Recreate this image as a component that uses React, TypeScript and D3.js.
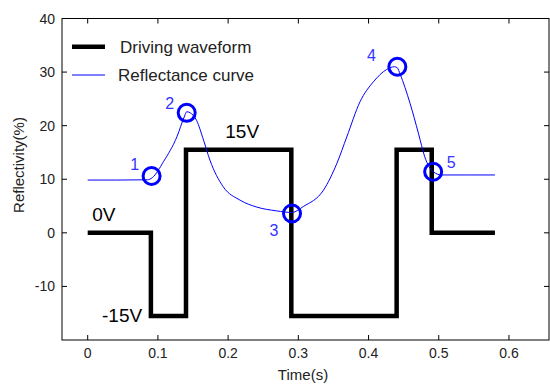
import React from "react";
import * as d3 from "d3";

// Driving waveform (time s, level)
const waveT = [0, 0.09, 0.09, 0.14, 0.14, 0.29, 0.29, 0.44, 0.44, 0.49, 0.49, 0.58];
const waveV = [0, 0, -15.5, -15.5, 15.5, 15.5, -15.5, -15.5, 15.5, 15.5, 0, 0];

// Reflectance curve
const reflT = [0, 0.04, 0.085, 0.092, 0.108, 0.127, 0.138, 0.141, 0.146, 0.155, 0.165, 0.174, 0.193, 0.217, 0.241, 0.269, 0.291, 0.307, 0.336, 0.355, 0.369, 0.388, 0.407, 0.426, 0.437, 0.441, 0.445, 0.459, 0.471, 0.48, 0.492, 0.504, 0.54, 0.58];
const reflR = [9.85, 9.85, 9.9, 10.3, 13.3, 17.9, 21.8, 22.6, 22.4, 21.0, 17.3, 13.6, 8.6, 6.1, 4.8, 4.1, 3.8, 4.9, 8.0, 13.0, 17.9, 24.5, 28.2, 30.5, 31.0, 30.8, 29.6, 24.2, 18.6, 14.2, 11.4, 10.8, 10.8, 10.8];

// Marked points
const markT = [0.091, 0.141, 0.291, 0.441, 0.492];
const markR = [10.6, 22.4, 3.6, 31.0, 11.4];
const markLabels = ["1", "2", "3", "4", "5"];
const markDx = [-17, -17, -18, -26, 18];
const markDy = [-12, -10, 16, -12, -10];

// Voltage annotations
const voltText = ["0V", "-15V", "15V"];
const voltT = [0.023, 0.049, 0.22];
const voltR = [3.5, -15.3, 19];

const xTicks = [0, 0.1, 0.2, 0.3, 0.4, 0.5, 0.6];
const yTicks = [-10, 0, 10, 20, 30, 40];

const legendLabels = ["Driving waveform", "Reflectance curve"];

export default function App() {
  const W = 550, H = 385;
  const left = 62, right = 549, top = 18.5, bottom = 340;
  const x = d3.scaleLinear().domain([-0.0366, 0.657]).range([left, right]);
  const y = d3.scaleLinear().domain([-20, 40]).range([bottom, top]);
  const font = "'Liberation Sans', Arial, sans-serif";

  const waveLine = d3.line<number>().x((_, i) => x(waveT[i])).y((_, i) => y(waveV[i]));
  const reflLine = d3
    .line<number>()
    .x((_, i) => x(reflT[i]))
    .y((_, i) => y(reflR[i]))
    .curve(d3.curveMonotoneX);

  const tl = 5;
  return (
    <svg width={W} height={H} style={{ position: "absolute", left: 0, top: 0, background: "#fff" }}>
      <rect x={0} y={0} width={W} height={H} fill="#fff" />
      {/* box */}
      <rect x={left} y={top} width={right - left} height={bottom - top} fill="none" stroke="#000" strokeWidth={1} />
      {xTicks.map((t) => (
        <g key={"x" + t}>
          <line x1={x(t)} x2={x(t)} y1={bottom} y2={bottom - tl} stroke="#000" />
          <line x1={x(t)} x2={x(t)} y1={top} y2={top + tl} stroke="#000" />
          <text x={x(t)} y={bottom + 18} textAnchor="middle" fontFamily={font} fontSize={14} fill="#222">
            {t === 0 ? "0" : d3.format(".1f")(t)}
          </text>
        </g>
      ))}
      {yTicks.map((v) => (
        <g key={"y" + v}>
          <line x1={left} x2={left + tl} y1={y(v)} y2={y(v)} stroke="#000" />
          <line x1={right} x2={right - tl} y1={y(v)} y2={y(v)} stroke="#000" />
          <text x={left - 7} y={y(v) + 5} textAnchor="end" fontFamily={font} fontSize={14} fill="#222">
            {v}
          </text>
        </g>
      ))}
      <text x={303} y={380} textAnchor="middle" fontFamily={font} fontSize={15} fill="#222">
        Time(s)
      </text>
      <text
        transform={`translate(24,165) rotate(-90)`}
        textAnchor="middle"
        fontFamily={font}
        fontSize={15}
        fill="#222"
      >
        Reflectivity(%)
      </text>

      <path d={waveLine(waveT) || ""} fill="none" stroke="#000" strokeWidth={4.5} strokeLinejoin="miter" strokeLinecap="butt" />
      <path d={reflLine(reflT) || ""} fill="none" stroke="#0000ff" strokeWidth={1} />

      {markT.map((t, i) => (
        <g key={"m" + i}>
          <circle cx={x(t)} cy={y(markR[i])} r={8.5} fill="none" stroke="#0000ff" strokeWidth={3} />
          <text
            x={x(t) + markDx[i]}
            y={y(markR[i]) + markDy[i] + 6}
            textAnchor="middle"
            fontFamily={font}
            fontSize={16}
            fill="#3333ff"
          >
            {markLabels[i]}
          </text>
        </g>
      ))}

      {voltText.map((s, i) => (
        <text key={s} x={x(voltT[i])} y={y(voltR[i]) + 7} textAnchor="middle" fontFamily={font} fontSize={19} fill="#000">
          {s}
        </text>
      ))}

      {/* legend */}
      <line x1={72} x2={105} y1={46.7} y2={46.7} stroke="#000" strokeWidth={4.5} />
      <text x={120} y={53} fontFamily={font} fontSize={17} fill="#222">
        {legendLabels[0]}
      </text>
      <line x1={72} x2={105} y1={75} y2={75} stroke="#0000ff" strokeWidth={1} />
      <text x={118} y={81} fontFamily={font} fontSize={17} fill="#222">
        {legendLabels[1]}
      </text>
    </svg>
  );
}
